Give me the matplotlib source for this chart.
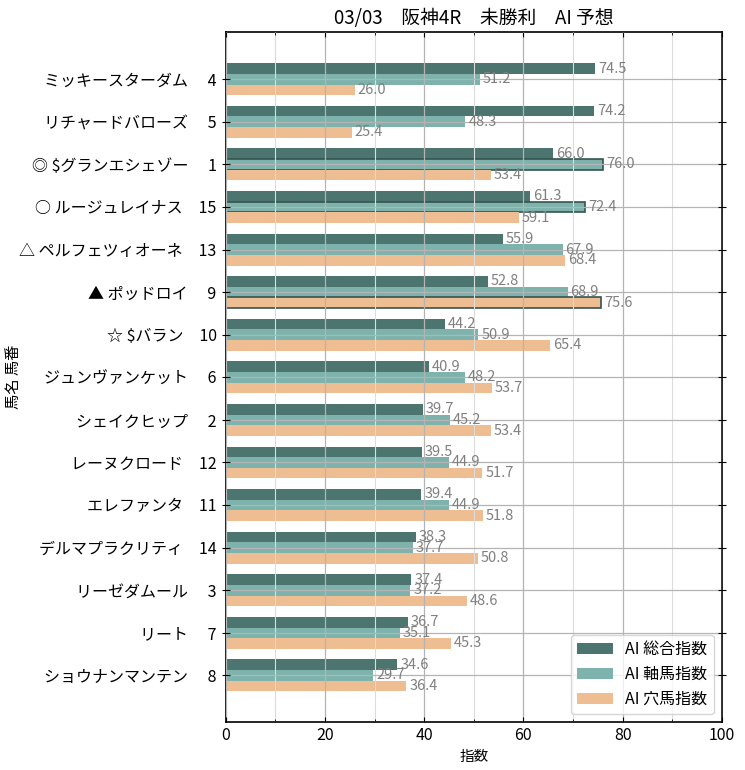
import numpy as np
import matplotlib
matplotlib.use("Agg")
import matplotlib.pyplot as plt
from matplotlib.ticker import MultipleLocator

plt.rcParams["font.family"] = ["Noto Sans CJK JP", "DejaVu Sans"]

# -----------------------------
# Data
# -----------------------------
horse_names = [
    "ミッキースターダム", "リチャードバローズ", "◎ $グランエシェゾー",
    "○ ルージュレイナス", "△ ペルフェツィオーネ", "▲ ポッドロイ",
    "☆ $バラン", "ジュンヴァンケット", "シェイクヒップ", "レーヌクロード",
    "エレファンタ", "デルマプラクリティ", "リーゼダムール", "リート",
    "ショウナンマンテン",
]
horse_numbers = [4, 5, 1, 15, 13, 9, 10, 6, 2, 12, 11, 14, 3, 7, 8]

total_index = [74.5, 74.2, 66.0, 61.3, 55.9, 52.8, 44.2, 40.9, 39.7, 39.5,
               39.4, 38.3, 37.4, 36.7, 34.6]
axis_index = [51.2, 48.3, 76.0, 72.4, 67.9, 68.9, 50.9, 48.2, 45.2, 44.9,
              44.9, 37.7, 37.2, 35.1, 29.7]
dark_index = [26.0, 25.4, 53.4, 59.1, 68.4, 75.6, 65.4, 53.7, 53.4, 51.7,
              51.8, 50.8, 48.6, 45.3, 36.4]

series_names = ["AI 総合指数", "AI 軸馬指数", "AI 穴馬指数"]
series_colors = ["#4d7570", "#7db3ac", "#efbd92"]

# bars with an outline (series index, horse index)
highlighted = [(1, 2), (1, 3), (2, 5)]

labels = [f"{n}　{num:>2}" for n, num in zip(horse_names, horse_numbers)]

# -----------------------------
# Figure
# -----------------------------
fig = plt.figure(figsize=(7.45, 7.7), dpi=100)
ax = fig.add_axes([0.303, 0.062, 0.666, 0.896])

y = np.arange(len(labels))
bar_h = 0.25
all_series = [total_index, axis_index, dark_index]

for i, (vals, name, color) in enumerate(zip(all_series, series_names, series_colors)):
    offset = (i - 1) * bar_h
    bars = ax.barh(y + offset, vals, height=bar_h, color=color, label=name, zorder=1)
    for j, (b, v) in enumerate(zip(bars, vals)):
        if (i, j) in highlighted:
            b.set_edgecolor("#35544f")
            b.set_linewidth(1.2)
        ax.text(v + 0.6, y[j] + offset, f"{v:.1f}", va="center", ha="left",
                fontsize=10.5, color="#808080", zorder=3)

ax.set_yticks(y)
ax.set_yticklabels(labels, fontsize=11.5)
ax.set_ylim(len(labels) - 1 + 1.1, -1.1)

ax.set_xlim(0, 100)
ax.xaxis.set_major_locator(MultipleLocator(20))
ax.xaxis.set_minor_locator(MultipleLocator(10))
ax.tick_params(axis="x", labelsize=11.5)

ax.tick_params(which="both", direction="in", top=True, right=True)
ax.tick_params(axis="y", direction="inout", length=6)

ax.grid(which="major", color="#b4b4b4", linewidth=0.9, zorder=2)
ax.grid(which="minor", axis="x", color="#dcdcdc", linewidth=0.8, zorder=2)
ax.set_axisbelow(False)

for s in ax.spines.values():
    s.set_linewidth(1.2)

ax.set_xlabel("指数", fontsize=10.5)
ax.set_ylabel("馬名 馬番", fontsize=11)
ax.yaxis.set_label_coords(-0.41, 0.5)
ax.set_title("03/03　阪神4R　未勝利　AI 予想", fontsize=13.5)

ax.legend(loc="lower right", fontsize=11.5, handlelength=2.2)

fig.savefig("out.png", dpi=100)
